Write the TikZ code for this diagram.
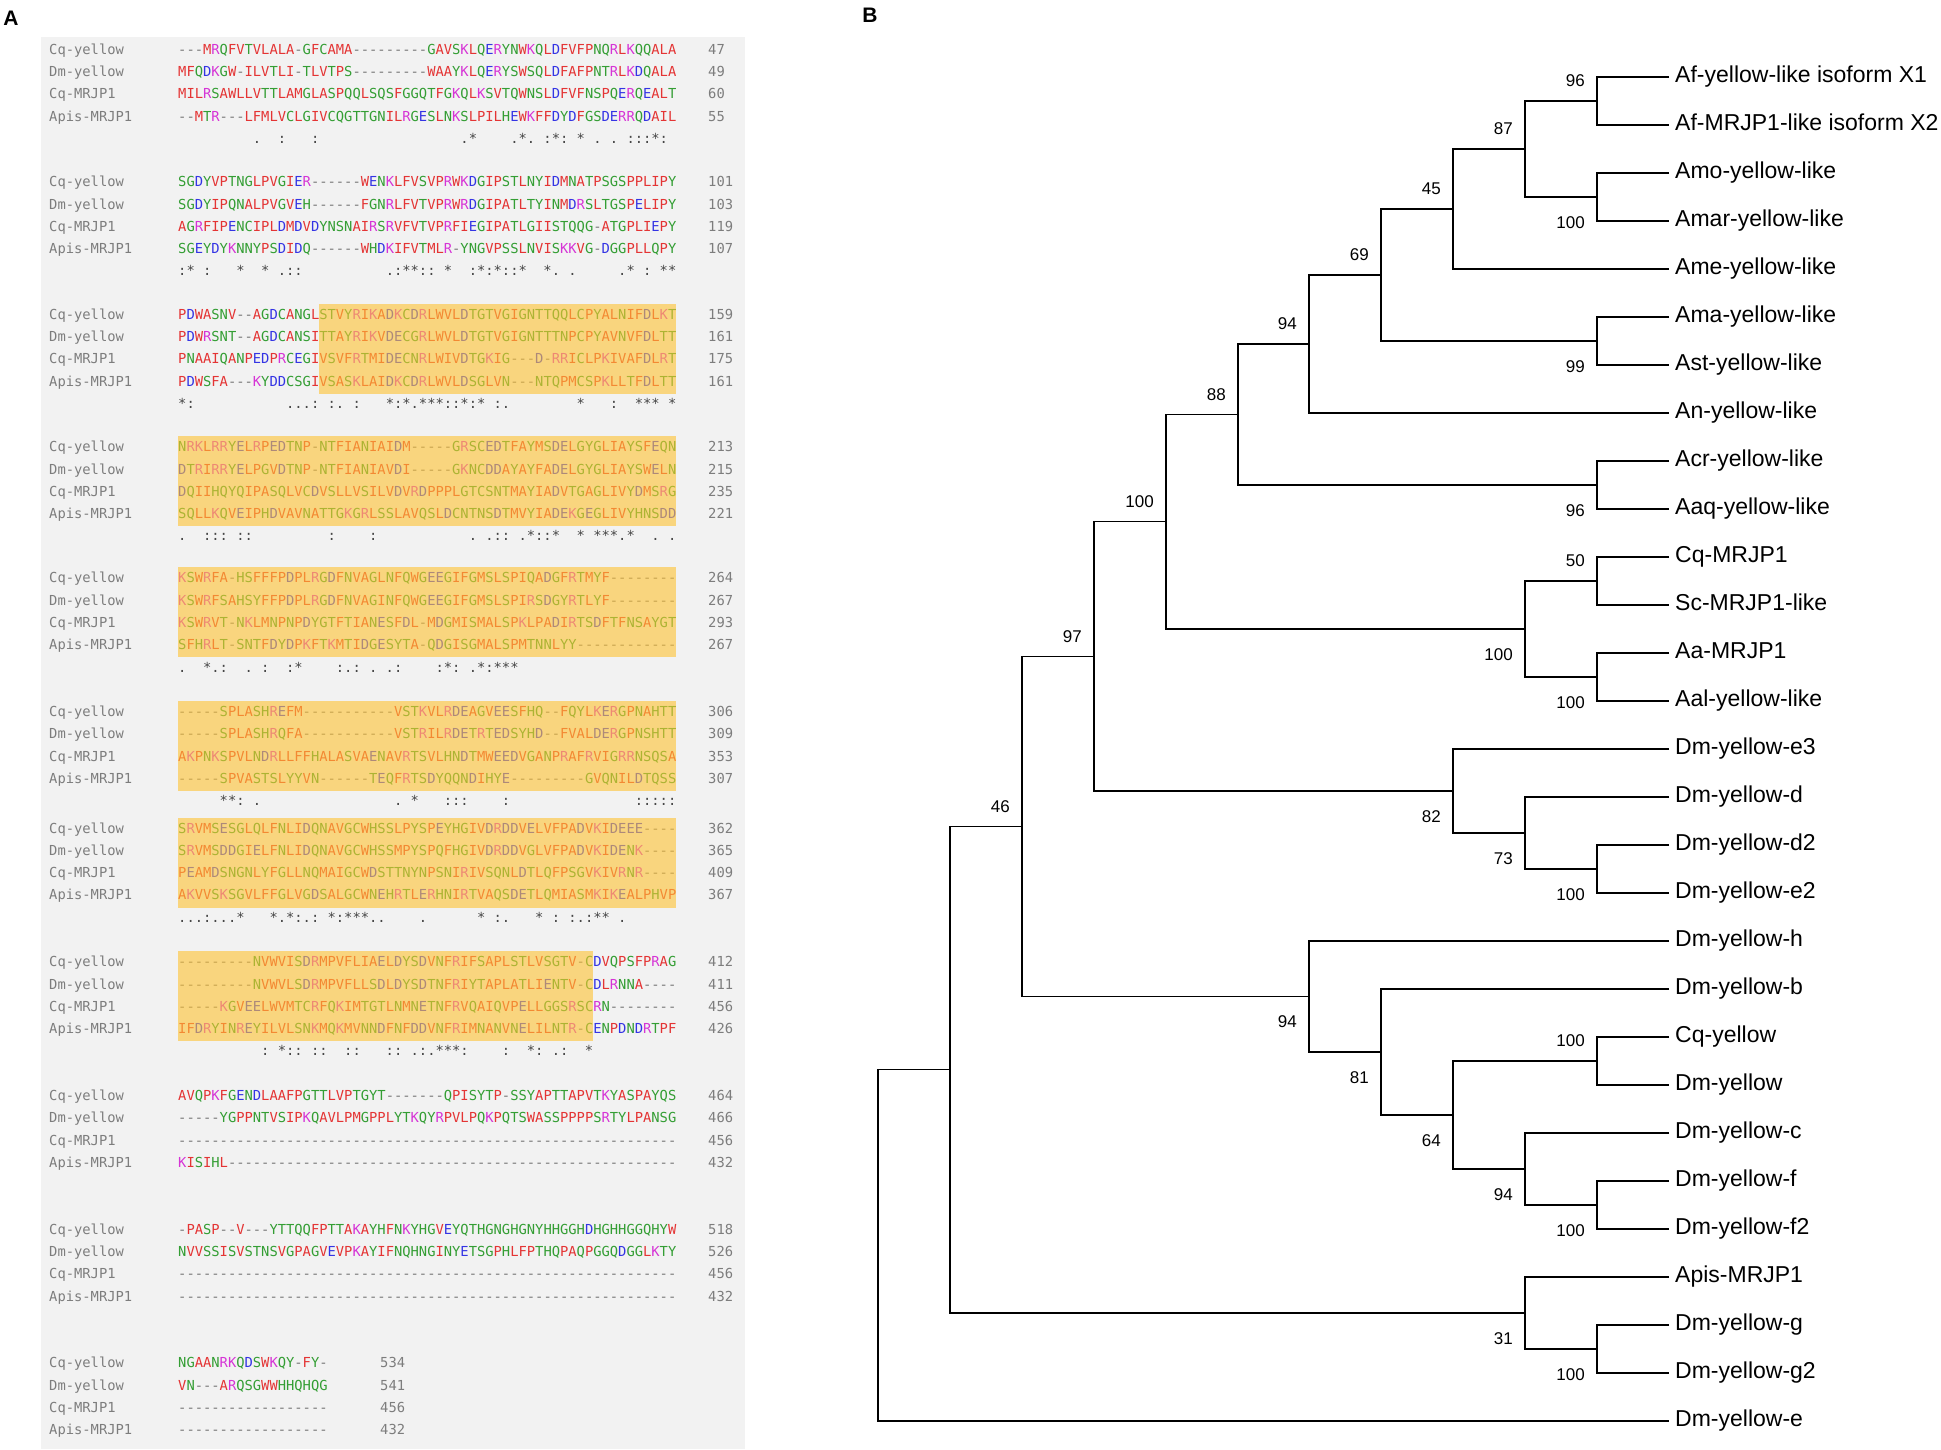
\documentclass[tikz,border=0pt]{standalone}
\usepackage{fontspec}
\usepackage{xcolor}
\usetikzlibrary{calc}
\newfontfamily\alnfont{DejaVu Sans Mono}
\newfontfamily\treefont{Liberation Sans}

\definecolor{aared}{RGB}{228,52,52}
\definecolor{aablue}{RGB}{52,52,228}
\definecolor{aamag}{RGB}{214,52,214}
\definecolor{aagreen}{RGB}{52,158,52}
\definecolor{aagap}{RGB}{120,120,120}
\definecolor{namegray}{RGB}{125,125,125}
\definecolor{consgray}{RGB}{70,70,70}
\definecolor{panelgray}{RGB}{242,242,242}
\definecolor{hilitecol}{RGB}{254,194,50}

% residue colouring, one letter at a time
\makeatletter
\def\aa@setcol#1#2{\@tfor\aa@c:=#2\do{\expandafter\def\csname aacol@\aa@c\endcsname{#1}}}
\aa@setcol{aared}{AVFPMILW}
\aa@setcol{aablue}{DE}
\aa@setcol{aamag}{RK}
\aa@setcol{aagreen}{STYHCNGQ}
\newcommand\aln[1]{\@tfor\aa@c:=#1\do{%
  \ifcsname aacol@\aa@c\endcsname
    \edef\aa@col{\csname aacol@\aa@c\endcsname}\textcolor{\aa@col}{\aa@c}%
  \else\textcolor{aagap}{\aa@c}\fi}}
\newcommand\cons[1]{\@tfor\aa@c:=#1\do{%
  \if-\aa@c\hphantom{-}\else\aa@c\fi}}
\makeatother

\newcounter{alnrow}
\def\posx{708}
\def\chw{8.3}
\newcommand\alnrow[4]{\stepcounter{alnrow}%
  \node[seqname] (nm\arabic{alnrow}) at (49,#1) {#2};
  \node[seqres] (sq\arabic{alnrow}) at (178,#1) {\aln{#3}};
  \node[seqpos] (ps\arabic{alnrow}) at (\posx,#1) {#4};}
\newcommand\consrow[1]{\stepcounter{alnrow}%
  \node[seqres, text=consgray] (cs\arabic{alnrow}) at (178,89.2) {\cons{#1}};}

% clade: name, x, upper child, lower child, bootstrap, label side
\newcommand\clade[6]{%
  \path let \p1=(#3), \p2=(#4) in coordinate (#1) at (#2pt,{(\y1+\y2)/2});
  \draw[branch] (#3) -| (#1) |- (#4);
  \ifx\relax#5\relax\else\node[#6] (#1-bs) at (#1) {#5};\fi}

\tikzset{
  seqname/.style={anchor=west, inner sep=0pt, text height=10pt, text depth=3pt,
    text=namegray, font=\alnfont\fontsize{13.79}{16}\selectfont},
  seqres/.style={seqname, text=black},
  seqpos/.style={seqname},
  hilite/.style={fill=hilitecol, fill opacity=0.6},
  branch/.style={line width=1.3pt},
  leaf/.style={anchor=west, inner xsep=6pt, inner ysep=0pt, text height=16pt,
    text depth=5pt, font=\treefont\fontsize{23}{26}\selectfont},
  boot/.style={inner sep=0pt, font=\treefont\fontsize{17}{20}\selectfont},
  bootA/.style={boot, anchor=south east, xshift=-12pt, yshift=14pt},
  bootB/.style={boot, anchor=north east, xshift=-12pt, yshift=-19pt},
  panel/.style={inner sep=0pt, font=\treefont\bfseries\fontsize{21}{24}\selectfont}
}

\begin{document}
\begin{tikzpicture}[x=1pt,y=-1pt]
\useasboundingbox (0,0) rectangle (1941,1449);
\fill[white] (0,0) rectangle (1941,1449);

% panel A: alignment
\fill[panelgray] (41,37) rectangle (745,1449);
\node[panel] (lblA) at (11,18) {A};

\begin{scope}[yshift=-50.8pt]
\alnrow{0}{Cq-yellow}{---MRQFVTVLALA-GFCAMA---------GAVSKLQERYNWKQLDFVFPNQRLKQQALA}{47}
\alnrow{22.3}{Dm-yellow}{MFQDKGW-ILVTLI-TLVTPS---------WAAYKLQERYSWSQLDFAFPNTRLKDQALA}{49}
\alnrow{44.6}{Cq-MRJP1}{MILRSAWLLVTTLAMGLASPQQLSQSFGGQTFGKQLKSVTQWNSLDFVFNSPQERQEALT}{60}
\alnrow{66.9}{Apis-MRJP1}{--MTR---LFMLVCLGIVCQGTTGNILRGESLNKSLPILHEWKFFDYDFGSDERRQDAIL}{55}
\consrow{---------.--:---:-----------------.*----.*.-:*:-*-.-.-:::*:-}
\end{scope}

\begin{scope}[yshift=-183.2pt]
\alnrow{0}{Cq-yellow}{SGDYVPTNGLPVGIER------WENKLFVSVPRWKDGIPSTLNYIDMNATPSGSPPLIPY}{101}
\alnrow{22.3}{Dm-yellow}{SGDYIPQNALPVGVEH------FGNRLFVTVPRWRDGIPATLTYINMDRSLTGSPELIPY}{103}
\alnrow{44.6}{Cq-MRJP1}{AGRFIPENCIPLDMDVDYNSNAIRSRVFVTVPRFIEGIPATLGIISTQQG-ATGPLIEPY}{119}
\alnrow{66.9}{Apis-MRJP1}{SGEYDYKNNYPSDIDQ------WHDKIFVTMLR-YNGVPSSLNVISKKVG-DGGPLLQPY}{107}
\consrow{:*-:---*--*-.::----------.:**::-*--:*:*::*--*.-.-----.*-:-**}
\end{scope}

\begin{scope}[yshift=-315.7pt]
\alnrow{0}{Cq-yellow}{PDWASNV--AGDCANGLSTVYRIKADKCDRLWVLDTGTVGIGNTTQQLCPYALNIFDLKT}{159}
\alnrow{22.3}{Dm-yellow}{PDWRSNT--AGDCANSITTAYRIKVDECGRLWVLDTGTVGIGNTTTNPCPYAVNVFDLTT}{161}
\alnrow{44.6}{Cq-MRJP1}{PNAAIQANPEDPRCEGIVSVFRTMIDECNRLWIVDTGKIG---D-RRICLPKIVAFDLRT}{175}
\alnrow{66.9}{Apis-MRJP1}{PDWSFA---KYDDCSGIVSASKLAIDKCDRLWVLDSGLVN---NTQPMCSPKLLTFDLTT}{161}
\consrow{*:-----------...:-:.-:---*:*.***::*:*-:.--------*---:--***-*}
\fill[hilite] ({178+17*\chw},-12) rectangle ({178+60*\chw},78);
\end{scope}

\begin{scope}[yshift=-448.2pt]
\alnrow{0}{Cq-yellow}{NRKLRRYELRPEDTNP-NTFIANIAIDM-----GRSCEDTFAYMSDELGYGLIAYSFEQN}{213}
\alnrow{22.3}{Dm-yellow}{DTRIRRYELPGVDTNP-NTFIANIAVDI-----GKNCDDAYAYFADELGYGLIAYSWELN}{215}
\alnrow{44.6}{Cq-MRJP1}{DQIIHQYQIPASQLVCDVSLLVSILVDVRDPPPLGTCSNTMAYIADVTGAGLIVYDMSRG}{235}
\alnrow{66.9}{Apis-MRJP1}{SQLLKQVEIPHDVAVNATTGKGRLSSLAVQSLDCNTNSDTMVYIADEKGEGLIVYHNSDD}{221}
\consrow{.--:::-::---------:----:-----------.-.::-.*::*--*-***.*--.-.}
\fill[hilite] (178,-12) rectangle ({178+60*\chw},78);
\end{scope}

\begin{scope}[yshift=-579.4pt]
\alnrow{0}{Cq-yellow}{KSWRFA-HSFFFPDPLRGDFNVAGLNFQWGEEGIFGMSLSPIQADGFRTMYF--------}{264}
\alnrow{22.3}{Dm-yellow}{KSWRFSAHSYFFPDPLRGDFNVAGINFQWGEEGIFGMSLSPIRSDGYRTLYF--------}{267}
\alnrow{44.6}{Cq-MRJP1}{KSWRVT-NKLMNPNPDYGTFTIANESFDL-MDGMISMALSPKLPADIRTSDFTFNSAYGT}{293}
\alnrow{66.9}{Apis-MRJP1}{SFHRLT-SNTFDYDPKFTKMTIDGESYTA-QDGISGMALSPMTNNLYY------------}{267}
\consrow{.--*.:--.-:--:*----:.:-.-.:----:*:-.*:***}
\fill[hilite] (178,-12) rectangle ({178+60*\chw},78);
\end{scope}

\begin{scope}[yshift=-713.1pt]
\alnrow{0}{Cq-yellow}{-----SPLASHREFM-----------VSTKVLRDEAGVEESFHQ--FQYLKERGPNAHTT}{306}
\alnrow{22.3}{Dm-yellow}{-----SPLASHRQFA-----------VSTRILRDETRTEDSYHD--FVALDERGPNSHTT}{309}
\alnrow{44.6}{Cq-MRJP1}{AKPNKSPVLNDRLLFFHALASVAENAVRTSVLHNDTMWEEDVGANPRAFRVIGRRNSQSA}{353}
\alnrow{66.9}{Apis-MRJP1}{-----SPVASTSLYYVN------TEQFRTSDYQQNDIHYE---------GVQNILDTQSS}{307}
\consrow{-----**:-.----------------.-*---:::----:---------------:::::}
\fill[hilite] (178,-12) rectangle ({178+60*\chw},78);
\end{scope}

\begin{scope}[yshift=-829.5pt]
\alnrow{0}{Cq-yellow}{SRVMSESGLQLFNLIDQNAVGCWHSSLPYSPEYHGIVDRDDVELVFPADVKIDEEE----}{362}
\alnrow{22.3}{Dm-yellow}{SRVMSDDGIELFNLIDQNAVGCWHSSMPYSPQFHGIVDRDDVGLVFPADVKIDENK----}{365}
\alnrow{44.6}{Cq-MRJP1}{PEAMDSNGNLYFGLLNQMAIGCWDSTTNYNPSNIRIVSQNLDTLQFPSGVKIVRNR----}{409}
\alnrow{66.9}{Apis-MRJP1}{AKVVSKSGVLFFGLVGDSALGCWNEHRTLERHNIRTVAQSDETLQMIASMKIKEALPHVP}{367}
\consrow{...:...*---*.*:.:-*:***..----.------*-:.---*-:-:.:**-.}
\fill[hilite] (178,-12) rectangle ({178+60*\chw},78);
\end{scope}

\begin{scope}[yshift=-963.2pt]
\alnrow{0}{Cq-yellow}{---------NVWVISDRMPVFLIAELDYSDVNFRIFSAPLSTLVSGTV-CDVQPSFPRAG}{412}
\alnrow{22.3}{Dm-yellow}{---------NVWVLSDRMPVFLLSDLDYSDTNFRIYTAPLATLIENTV-CDLRNNA----}{411}
\alnrow{44.6}{Cq-MRJP1}{-----KGVEELWVMTCRFQKIMTGTLNMNETNFRVQAIQVPELLGGSRSCRN--------}{456}
\alnrow{66.9}{Apis-MRJP1}{IFDRYINREYILVLSNKMQKMVNNDFNFDDVNFRIMNANVNELILNTR-CENPDNDRTPF}{426}
\consrow{----------:-*::-::--::---::-.:.***:----:--*:-.:--*}
\fill[hilite] (178,-12) rectangle ({178+50*\chw},78);
\end{scope}

\begin{scope}[yshift=-1096.9pt]
\alnrow{0}{Cq-yellow}{AVQPKFGENDLAAFPGTTLVPTGYT-------QPISYTP-SSYAPTTAPVTKYASPAYQS}{464}
\alnrow{22.3}{Dm-yellow}{-----YGPPNTVSIPKQAVLPMGPPLYTKQYRPVLPQKPQTSWASSPPPPSRTYLPANSG}{466}
\alnrow{44.6}{Cq-MRJP1}{------------------------------------------------------------}{456}
\alnrow{66.9}{Apis-MRJP1}{KISIHL------------------------------------------------------}{432}
\end{scope}

\begin{scope}[yshift=-1230.6pt]
\alnrow{0}{Cq-yellow}{-PASP--V---YTTQQFPTTAKAYHFNKYHGVEYQTHGNGHGNYHHGGHDHGHHGGQHYW}{518}
\alnrow{22.3}{Dm-yellow}{NVVSSISVSTNSVGPAGVEVPKAYIFNQHNGINYETSGPHLFPTHQPAQPGGQDGGLKTY}{526}
\alnrow{44.6}{Cq-MRJP1}{------------------------------------------------------------}{456}
\alnrow{66.9}{Apis-MRJP1}{------------------------------------------------------------}{432}
\end{scope}

\begin{scope}[yshift=-1364.3pt]
\def\posx{380}
\alnrow{0}{Cq-yellow}{NGAANRKQDSWKQY-FY-}{534}
\alnrow{22.3}{Dm-yellow}{VN---ARQSGWWHHQHQG}{541}
\alnrow{44.6}{Cq-MRJP1}{------------------}{456}
\alnrow{66.9}{Apis-MRJP1}{------------------}{432}
\end{scope}

% panel B: tree
\node[panel] (lblB) at (870,15) {B};

\node[leaf] (afx1) at (1669,77) {Af-yellow-like isoform X1};
\node[leaf] (afx2) at (1669,125) {Af-MRJP1-like isoform X2};
\node[leaf] (amo) at (1669,173) {Amo-yellow-like};
\node[leaf] (amar) at (1669,221) {Amar-yellow-like};
\node[leaf] (ame) at (1669,269) {Ame-yellow-like};
\node[leaf] (ama) at (1669,317) {Ama-yellow-like};
\node[leaf] (ast) at (1669,365) {Ast-yellow-like};
\node[leaf] (an) at (1669,413) {An-yellow-like};
\node[leaf] (acr) at (1669,461) {Acr-yellow-like};
\node[leaf] (aaq) at (1669,509) {Aaq-yellow-like};
\node[leaf] (cqm) at (1669,557) {Cq-MRJP1};
\node[leaf] (scm) at (1669,605) {Sc-MRJP1-like};
\node[leaf] (aam) at (1669,653) {Aa-MRJP1};
\node[leaf] (aal) at (1669,701) {Aal-yellow-like};
\node[leaf] (ye3) at (1669,749) {Dm-yellow-e3};
\node[leaf] (yd) at (1669,797) {Dm-yellow-d};
\node[leaf] (yd2) at (1669,845) {Dm-yellow-d2};
\node[leaf] (ye2) at (1669,893) {Dm-yellow-e2};
\node[leaf] (yh) at (1669,941) {Dm-yellow-h};
\node[leaf] (yb) at (1669,989) {Dm-yellow-b};
\node[leaf] (cqy) at (1669,1037) {Cq-yellow};
\node[leaf] (dmy) at (1669,1085) {Dm-yellow};
\node[leaf] (yc) at (1669,1133) {Dm-yellow-c};
\node[leaf] (yf) at (1669,1181) {Dm-yellow-f};
\node[leaf] (yf2) at (1669,1229) {Dm-yellow-f2};
\node[leaf] (apis) at (1669,1277) {Apis-MRJP1};
\node[leaf] (yg) at (1669,1325) {Dm-yellow-g};
\node[leaf] (yg2) at (1669,1373) {Dm-yellow-g2};
\node[leaf] (ye) at (1669,1421) {Dm-yellow-e};

\clade{k1}{1597}{afx1.west}{afx2.west}{96}{bootA}
\clade{k2}{1597}{amo.west}{amar.west}{100}{bootB}
\clade{k3}{1525}{k1}{k2}{87}{bootA}
\clade{k4}{1453}{k3}{ame.west}{45}{bootA}
\clade{k5}{1597}{ama.west}{ast.west}{99}{bootB}
\clade{k6}{1381}{k4}{k5}{69}{bootA}
\clade{k7}{1309}{k6}{an.west}{94}{bootA}
\clade{k8}{1597}{acr.west}{aaq.west}{96}{bootB}
\clade{k9}{1238}{k7}{k8}{88}{bootA}
\clade{k10}{1597}{cqm.west}{scm.west}{50}{bootA}
\clade{k11}{1597}{aam.west}{aal.west}{100}{bootB}
\clade{k12}{1525}{k10}{k11}{100}{bootB}
\clade{k13}{1166}{k9}{k12}{100}{bootA}
\clade{k14}{1597}{yd2.west}{ye2.west}{100}{bootB}
\clade{k15}{1525}{yd.west}{k14}{73}{bootB}
\clade{k16}{1453}{ye3.west}{k15}{82}{bootB}
\clade{k17}{1094}{k13}{k16}{97}{bootA}
\clade{k18}{1597}{cqy.west}{dmy.west}{100}{bootA}
\clade{k19}{1597}{yf.west}{yf2.west}{100}{bootB}
\clade{k20}{1525}{yc.west}{k19}{94}{bootB}
\clade{k21}{1453}{k18}{k20}{64}{bootB}
\clade{k22}{1381}{yb.west}{k21}{81}{bootB}
\clade{k23}{1309}{yh.west}{k22}{94}{bootB}
\clade{k24}{1022}{k17}{k23}{46}{bootA}
\clade{k25}{1597}{yg.west}{yg2.west}{100}{bootB}
\clade{k26}{1525}{apis.west}{k25}{31}{bootB}
\clade{k27}{950}{k24}{k26}{}{bootA}
\clade{root}{878}{k27}{ye.west}{}{bootA}
\end{tikzpicture}
\end{document}
